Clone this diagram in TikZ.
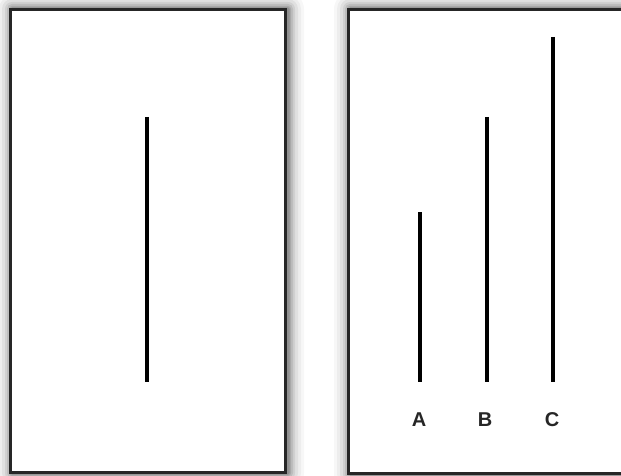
\documentclass[tikz,border=0pt]{standalone}
\usepackage{fontspec}
\setmainfont{Liberation Sans}
\begin{document}
\begin{tikzpicture}[x=1pt,y=-1pt,
  stim/.style={line width=4pt},
  panel/.style={draw=black!85,line width=3pt,fill=white},
  lab/.style={font=\fontsize{20}{20}\selectfont\bfseries,text=black!85}]
\useasboundingbox (0,0) rectangle (621,476);
\clip (0,0) rectangle (621,476);
\fill[white] (0,0) rectangle (621,476);
% soft shadows
\foreach \d/\o in {16/0.03,13/0.04,10/0.05,7/0.07,5/0.09,3/0.11,1.5/0.14}{
  \fill[black,opacity=\o,rounded corners=\d pt] (9-\d+3,8-\d+1) rectangle (284+\d+4,471+\d+2);
  \fill[black,opacity=\o,rounded corners=\d pt] (347-\d+3,8-\d+1) rectangle (640+\d,472+\d+2);
}
\node[panel,minimum width=275pt,minimum height=463pt,anchor=north west,inner sep=0pt] (left) at (9,8) {};
\node[panel,minimum width=300pt,minimum height=464pt,anchor=north west,inner sep=0pt] (right) at (347,8) {};
% stimulus lines
\coordinate (s1) at (147,117); \coordinate (s2) at (147,382);
\draw[stim] (s1) -- (s2);
\coordinate (a1) at (420,212); \coordinate (a2) at (420,382);
\coordinate (b1) at (487,117); \coordinate (b2) at (487,382);
\coordinate (c1) at (553,37);  \coordinate (c2) at (553,382);
\draw[stim] (a1) -- (a2);
\draw[stim] (b1) -- (b2);
\draw[stim] (c1) -- (c2);
\node[lab] (la) at (419,420) {A};
\node[lab] (lb) at (485,420) {B};
\node[lab] (lc) at (552,420) {C};
\end{tikzpicture}
\end{document}
